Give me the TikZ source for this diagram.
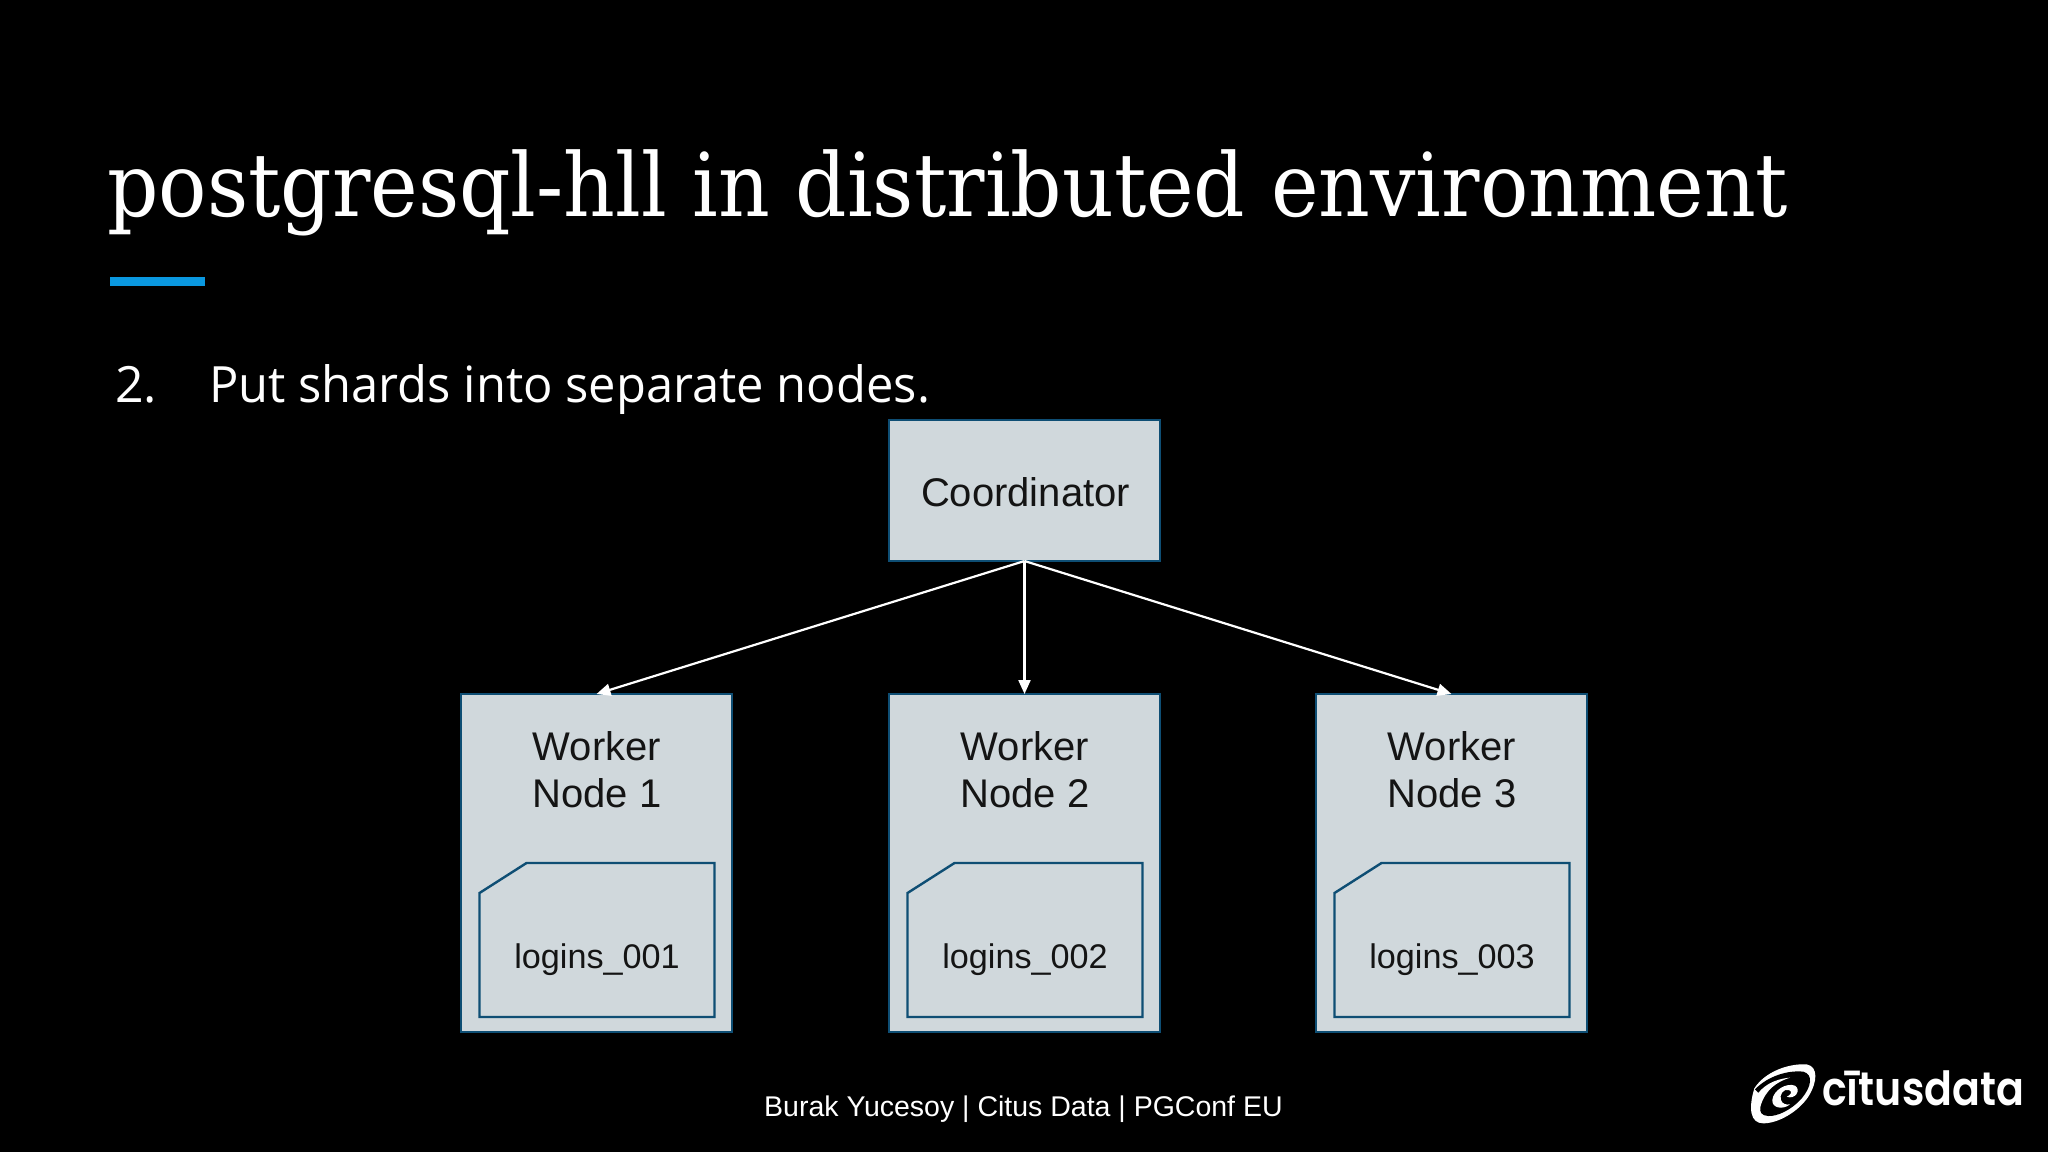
\documentclass[tikz,border=0pt]{standalone}
\usepackage{fontspec}
\usetikzlibrary{arrows.meta}
\setmainfont{Liberation Sans}
\newfontfamily\titlefont{DejaVu Serif}
\newfontfamily\bodyfont{Open Sans}
\newfontfamily\logofont{Poppins}[BoldFont=Poppins SemiBold]
\definecolor{boxfill}{RGB}{208,216,220}
\definecolor{boxline}{RGB}{14,78,116}
\definecolor{barblue}{RGB}{10,152,224}
\tikzset{
 px/.style={x=1pt,y=-1pt},
 boxnode/.style={draw=boxline,fill=boxfill,line width=2.4pt,minimum width=271pt,minimum height=141pt,inner sep=0pt,outer sep=0pt},
 workernode/.style={boxnode,minimum height=338pt},
 shardbounds/.style={minimum width=235pt,minimum height=154pt,inner sep=0pt,outer sep=0pt},
 shardline/.style={draw=boxline,fill=boxfill,line width=2.4pt,line join=miter},
 lbl/.style={text=black!92,font=\fontsize{40}{47}\selectfont,align=center,inner sep=0pt},
 shardlbl/.style={text=black!92,font=\fontsize{34.2}{42}\selectfont,inner sep=0pt},
 conn/.style={draw=white,line width=2.2pt,-{Triangle[length=14pt,width=12pt]}},
 anch/.style={anchor=base west,inner sep=0pt,text=white},
}
\begin{document}
\begin{tikzpicture}[px]
\useasboundingbox (0,0) rectangle (2048,1152);
\fill[black] (0,0) rectangle (2048,1152);
\node[anch,font=\fontsize{88}{100}\selectfont\titlefont] (title) at (107,216) {\scalebox{0.914}[1]{postgresql-hll in distributed environment}};
\fill[barblue] (110,277) rectangle (205,286);
\node[anch,font=\fontsize{50}{60}\selectfont\bodyfont] (num) at (115,402) {2.};
\node[anch,font=\fontsize{50}{60}\selectfont\bodyfont] (body) at (209,402) {\scalebox{0.977}[1]{Put shards into separate nodes.}};
\node[boxnode] (coord) at (1024.5,490.5) {};
\node[lbl] (coordl) at (1025.5,492) {Coordinator};
\foreach \n/\cx/\sx/\tx in {1/596.5/597/597,2/1024.5/1025/1025,3/1451.5/1452/1452}{
  \node[workernode] (w\n) at (\cx,863) {};
  \node[lbl] (wl\n) at (\tx,770) {Worker\\Node \n};
  \node[shardbounds] (s\n) at (\sx,940) {};
  \path[shardline] ([xshift=47pt]s\n.north west) -- (s\n.north east) -- (s\n.south east) -- (s\n.south west) -- ([yshift=-30pt]s\n.north west) -- cycle;
  \node[shardlbl] (sl\n) at (\sx,960) {logins\_00\n};
  \draw[conn] (coord.south) -- (w\n.north);
}
\node[anch,font=\fontsize{28.5}{34}\selectfont] (foot) at (764,1116) {Burak Yucesoy | Citus Data | PGConf EU};
% logo
\begin{scope}[shift={(1745,1055)},x=0.3333pt,y=-0.3333pt]
\fill[white] (28,100) .. controls (60,50) and (130,25) .. (185,28) .. controls (220,35) and (218,80) .. (190,125) .. controls (160,170) and (100,205) .. (55,205) .. controls (15,205) and (10,160) .. (28,100) -- cycle;
\fill[black] (30,103) .. controls (70,62) and (130,45) .. (175,50) .. controls (205,58) and (200,95) .. (170,130) .. controls (140,165) and (95,185) .. (70,183) .. controls (50,182) and (43,172) .. (46,155) .. controls (48,135) and (50,120) .. (30,103) -- cycle;
\fill[white] (32,125) .. controls (50,95) and (85,72) .. (135,68) .. controls (95,80) and (60,105) .. (46,155) -- (32,150) -- cycle;
\fill[white] (82,135) .. controls (85,105) and (125,82) .. (150,92) .. controls (170,105) and (150,135) .. (125,125) .. controls (135,122) and (145,110) .. (132,105) .. controls (115,100) and (102,120) .. (108,135) .. controls (112,148) and (125,150) .. (135,148) .. controls (115,165) and (80,160) .. (82,135) -- cycle;
\end{scope}
\node[anch,font=\fontsize{47}{50}\selectfont\logofont\bfseries] (logo) at (1822,1105) {\scalebox{0.875}[1]{cītusdata}};
\end{tikzpicture}
\end{document}
